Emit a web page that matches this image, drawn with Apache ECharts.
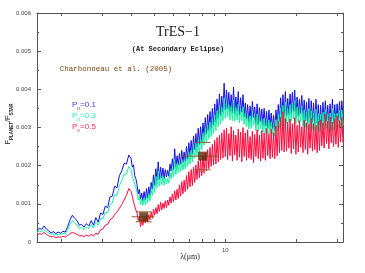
<!DOCTYPE html>
<html>
<head>
<meta charset="utf-8">
<script src="https://cdn.jsdelivr.net/npm/echarts@6/dist/echarts.min.js"></script>
<style>html,body{margin:0;padding:0;background:#fff;}#c{width:365px;height:273px;}</style>
</head>
<body>
<div id="c"></div>
<script>
// Wavelength grid (micron)
const wavelength = [1.585,1.622,1.660,1.698,1.738,1.778,1.820,1.862,1.905,1.950,1.995,2.042,2.089,2.138,2.188,2.239,2.291,2.344,2.399,2.455,2.512,2.570,2.630,2.692,2.754,2.818,2.884,2.951,3.020,3.090,3.162,3.236,3.311,3.388,3.467,3.548,3.631,3.715,3.802,3.890,
3.981,4.027,4.074,4.121,4.169,4.217,4.266,4.315,4.365,4.416,4.467,4.519,4.571,4.624,4.677,4.732,4.786,4.842,4.898,4.955,5.012,5.070,5.129,5.188,5.248,5.309,5.370,5.433,5.495,5.559,5.623,5.689,5.754,5.821,5.888,5.957,6.026,6.095,6.166,6.237,6.310,6.383,6.457,6.531,6.607,6.683,6.761,6.839,6.918,6.998,7.079,7.161,7.244,7.328,7.413,7.499,7.586,7.674,7.762,7.852,7.943,8.035,8.128,8.222,8.318,8.414,8.511,8.610,8.710,8.810,8.913,9.016,9.120,9.226,9.333,9.441,9.550,9.661,9.772,9.886,10.00,10.12,10.23,10.35,10.47,10.59,10.72,10.84,10.96,11.09,11.22,11.35,11.48,11.61,11.75,11.89,12.02,12.16,12.30,12.44,12.59,12.74,12.88,13.03,13.18,13.33,13.49,13.65,13.80,13.96,14.13,14.29,14.45,14.62,14.79,14.96,15.14,15.32,15.49,15.67,15.85,16.03,16.22,16.41,16.60,16.79,16.98,17.18,17.38,17.58,17.78,17.99,18.20,18.41,18.62,18.84,19.05,19.27,19.50,19.72,19.95,20.18,20.42,20.65,20.89,21.13,21.38,21.63,21.88,22.13,22.39,22.65,22.91,23.18,23.44,23.71,23.99,24.27,24.55,24.83,25.12,25.41,25.70,26.00,26.30,26.61,26.92,27.23,27.54,27.86,28.18,28.51,28.84,29.17,29.51,29.85,30.20,30.55,30.90,31.26,31.62];
// F_planet/F_star in units of 1e-4
const fluxPn01 = [3.0,3.6,3.3,4.2,3.4,2.9,2.4,2.7,2.2,2.6,2.3,2.8,2.6,4.0,5.8,7.0,6.2,5.6,4.4,4.6,3.9,4.8,4.2,5.6,4.4,6.4,5.2,7.6,7.2,9.4,9.0,11.8,12.0,14.6,14.2,17.4,18.6,20.6,20.4,22.8,
21.8,19.6,20.2,17.4,16.6,
15.0,12.6,13.8,11.2,12.8,10.8,13.2,11.0,14.0,11.6,14.4,12.2,
15.6,13.8,17.6,14.8,19.2,16.0,21.0,16.4,
19.6,16.8,19.4,16.6,19.0,17.0,18.8,17.2,
20.4,18.6,21.8,19.0,24.4,19.6,22.6,20.2,
23.2,20.4,24.0,20.8,23.6,21.2,25.0,21.8,26.0,22.6,
26.6,23.0,27.8,24.2,28.4,24.8,29.8,25.6,30.2,26.4,
31.2,27.6,32.6,28.4,33.4,29.2,34.2,29.8,35.0,30.6,
36.2,31.4,37.4,32.4,38.8,33.2,38.2,34.0,41.6,34.6,
39.8,35.0,39.2,34.2,38.6,33.8,40.6,33.6,38.0,34.2,39.4,33.2,37.8,34.0,38.6,32.8,
36.4,32.2,36.0,31.4,35.6,31.6,36.8,32.6,35.4,31.0,36.2,30.8,35.2,31.6,34.8,30.6,35.0,30.4,34.2,29.8,34.6,30.2,33.8,29.6,
33.2,29.0,34.6,30.8,36.0,31.6,37.8,32.4,38.6,32.0,39.4,33.0,37.6,33.4,
38.8,33.6,39.2,34.2,39.8,32.8,38.0,33.0,37.4,33.6,38.4,32.2,37.2,31.8,36.6,31.0,37.6,30.6,37.0,31.4,36.4,30.8,37.4,31.2,36.0,30.6,
35.8,30.2,36.6,31.2,37.0,31.6,35.8,30.6,36.2,30.8,37.4,31.0,36.0,31.4,36.2,31.6,36.8,32.0,37.0,32.4];
const fluxPn03 = [2.4,2.9,2.7,3.3,2.8,2.3,2.0,2.2,1.8,2.1,1.9,2.3,2.1,3.2,4.6,5.6,5.0,4.4,3.6,3.8,3.2,3.9,3.5,4.6,3.7,5.2,4.4,6.2,6.0,7.8,7.6,9.8,10.2,12.4,12.2,14.8,16.0,17.8,17.8,19.8,
19.0,17.2,17.6,15.2,14.4,
13.0,11.0,12.0,9.8,11.2,9.6,11.6,9.8,12.2,10.2,12.6,10.8,
13.8,12.2,15.6,13.0,17.2,14.2,18.6,14.6,
17.4,15.0,17.2,14.8,16.8,15.2,16.6,15.4,
18.2,16.6,19.6,17.0,21.6,17.6,20.4,18.2,
20.8,18.4,21.6,18.8,21.2,19.2,22.6,19.8,23.4,20.4,
24.0,21.0,25.2,22.0,25.8,22.6,27.0,23.4,27.4,24.2,
28.4,25.4,29.8,26.2,30.6,27.0,31.4,27.6,32.2,28.4,
33.4,29.2,34.4,30.2,35.6,31.0,35.2,31.8,37.8,32.4,
36.4,32.8,36.0,32.0,35.4,31.8,37.2,31.6,35.0,32.0,36.2,31.2,34.8,31.8,35.4,30.8,
33.8,30.2,33.4,29.6,33.0,29.8,34.2,30.6,32.8,29.2,33.6,29.0,32.6,29.6,32.2,28.8,32.4,28.6,31.8,28.2,32.0,28.4,31.4,28.0,
30.8,27.6,32.0,29.0,33.4,29.8,35.0,30.4,35.8,30.2,36.6,31.0,34.8,31.4,
36.0,31.6,36.4,32.2,37.0,31.0,35.4,31.2,34.8,31.6,35.6,30.4,34.6,30.0,34.0,29.4,35.0,29.0,34.4,29.6,33.8,29.0,34.8,29.4,33.6,28.8,
33.4,28.6,34.0,29.4,34.6,29.8,33.4,28.8,33.8,29.0,35.0,29.2,33.6,29.6,33.8,29.8,34.4,30.2,34.6,30.6];
const fluxPn05 = [1.7,2.2,2.0,2.5,2.0,1.6,1.3,1.5,1.1,1.4,1.2,1.5,1.3,1.7,2.2,2.5,2.3,2.0,1.6,1.7,1.4,1.8,1.5,2.0,1.6,2.3,2.0,3.2,3.4,4.4,4.6,5.8,6.2,7.2,7.8,8.8,9.8,11.0,12.2,14.0,
13.2,12.0,10.6,9.4,8.4,
7.6,5.6,6.6,4.0,5.8,4.4,6.4,5.0,7.0,5.2,7.2,5.8,
7.8,6.2,8.6,7.0,9.0,7.4,9.8,8.0,
10.4,8.4,10.2,8.8,10.8,9.0,11.0,9.6,
11.8,10.2,12.6,10.6,13.4,11.0,13.8,11.4,
15.0,12.0,15.8,12.6,16.2,13.2,17.4,13.8,18.4,14.4,
19.0,14.8,19.6,15.6,20.2,16.4,21.2,16.8,21.6,17.4,
22.6,18.0,23.2,18.6,24.2,19.2,24.8,19.8,25.6,20.2,
26.6,20.4,27.4,21.0,28.0,21.6,28.6,22.0,29.4,22.4,
29.8,21.6,28.4,22.6,30.2,21.2,29.2,22.8,28.0,21.4,29.6,22.2,28.8,21.0,30.0,22.4,
28.6,21.4,29.4,22.0,27.6,21.6,29.0,20.8,28.2,22.4,29.4,21.8,28.0,21.2,29.2,22.0,28.6,21.4,29.8,22.6,28.4,21.8,29.6,22.2,
28.6,21.8,30.4,22.6,31.6,23.4,32.6,24.0,34.2,23.6,32.4,23.8,31.4,24.6,
32.2,23.2,31.0,24.4,32.6,23.0,30.6,23.6,31.8,24.8,30.2,23.4,32.0,24.2,31.2,23.0,30.8,24.6,32.4,23.8,31.0,24.2,30.6,23.4,31.6,24.0,
32.0,25.2,31.2,24.6,33.4,25.8,31.6,24.4,32.8,26.0,31.4,25.0,32.2,25.6,33.0,24.8,31.8,26.2,32.6,26.0];
// Charbonneau et al. (2005) observations
const obsWavelength = [4.5, 8.0];
const obsFlux = [6.6, 22.5];
const obsErr = [1.3, 3.6];
const obsBandLo = [4.0, 6.5];
const obsBandHi = [5.0, 9.3];
// Axis ticks
const xTickValues = [2,3,4,5,6,7,8,9,10,20,30];
const xLabelValues = [10];
const seriesNames = ['Pn=0.1','Pn=0.3','Pn=0.5'];
const seriesColors = ['#1010e0','#14f0a0','#ff0a3c'];
const legendColors = ['#3a3aff','#2cf5a8','#ff2a55'];

const chart = echarts.init(document.getElementById('c'), null, {renderer:'canvas'});
const pairs = arr => arr.slice(0, Math.min(arr.length, wavelength.length)).map((v,i)=>[wavelength[i], v]);
const frame = '#555';
function xAx(pos, label){
  return {type:'log', logBase:10, min:1.585, max:31.62, position:pos,
    axisLine:{show:true, onZero:false, lineStyle:{color:frame, width:1}},
    axisTick:{show:true, inside:true, length:3, customValues:xTickValues, lineStyle:{color:frame}},
    axisLabel:{show:label, customValues:xLabelValues, fontSize:6, color:'#444', margin:5, fontFamily:'Liberation Sans', formatter:v=>String(Math.round(v))},
    splitLine:{show:false}, minorTick:{show:false}};
}
function yAx(pos, label){
  return {type:'value', min:0, max:60, interval:10, position:pos,
    axisLine:{show:true, onZero:false, lineStyle:{color:frame, width:1}},
    axisTick:{show:true, inside:true, length:4, lineStyle:{color:frame}},
    minorTick:{show:true, splitNumber:2, length:2, lineStyle:{color:frame}},
    axisLabel:{show:label, fontSize:6, color:'#444', margin:6, fontFamily:'Liberation Sans',
      formatter:v=> v===0 ? '0' : (v/10000).toFixed(3)},
    splitLine:{show:false}, minorSplitLine:{show:false}};
}
const obsData = obsWavelength.map((w,i)=>[w, obsFlux[i], obsErr[i], obsBandLo[i], obsBandHi[i]]);
const option = {
  animation:false,
  grid:{left:37, right:22, top:13, bottom:31, containLabel:false},
  xAxis:[xAx('bottom', true), xAx('top', false)],
  yAxis:[yAx('left', true), yAx('right', false)],
  series:[
    ...[fluxPn01, fluxPn03, fluxPn05].map((arr,i)=>({
      name:seriesNames[i], type:'line', data:pairs(arr), showSymbol:false, symbol:'none',
      lineStyle:{color:seriesColors[i], width:1}, z:2+i, silent:true
    })),
    {type:'custom', data:obsData, z:10, renderItem:(params, api)=>{
      const w=api.value(0), f=api.value(1), e=api.value(2), lo=api.value(3), hi=api.value(4);
      const pt = api.coord([w,f+e]), pb = api.coord([w,f-e]);
      const pl = api.coord([lo,f]), pr = api.coord([hi,f]);
      const st = {stroke:'#8a5a2e', lineWidth:1};
      return {type:'group', children:[
        {type:'line', shape:{x1:pl[0], y1:pl[1], x2:pr[0], y2:pr[1]}, style:st},
        {type:'line', shape:{x1:pt[0]-8, y1:pt[1], x2:pt[0]+8, y2:pt[1]}, style:st},
        {type:'line', shape:{x1:pb[0]-8, y1:pb[1], x2:pb[0]+8, y2:pb[1]}, style:st}
      ]};
    }},
    {type:'scatter', data:obsWavelength.map((w,i)=>[w, obsFlux[i]]), symbol:'rect', symbolSize:9,
      itemStyle:{color:'#5a2806'}, z:11}
  ],
  graphic:[
    {type:'text', style:{text:'TrES\u22121', x:178, y:32, font:'14px "Liberation Serif"', fill:'#222', align:'center', verticalAlign:'middle'}},
    {type:'text', style:{text:'(At Secondary Eclipse)', x:178, y:49, font:'bold 7px "Liberation Mono"', fill:'#222', align:'center', verticalAlign:'middle'}},
    {type:'text', style:{text:'Charbonneau et al. (2005)', x:116, y:69, font:'7.5px "Liberation Mono"', fill:'#7a4614', align:'center', verticalAlign:'middle'}},
    ...seriesNames.map((n,i)=>({type:'text', style:{
      text:'{p|P}{s|n}{p|=0.' + [1,3,5][i] + '}', x:72, y:106+11*i, align:'left', verticalAlign:'middle',
      rich:{p:{fontSize:8, fontFamily:'Liberation Sans', fill:legendColors[i], lineHeight:10, verticalAlign:'top'},
            s:{fontSize:5, fontFamily:'Liberation Sans', fill:legendColors[i], lineHeight:10, verticalAlign:'bottom', padding:[3,0,0,0]}}
    }})),
    {type:'text', rotation:Math.PI/2, x:9, y:124, style:{
      text:'{p|F}{s|PLANET}{p|/F}{s|STAR}', align:'center', verticalAlign:'middle',
      rich:{p:{fontSize:7.5, fontFamily:'Liberation Sans', fill:'#222', lineHeight:10, verticalAlign:'top'},
            s:{fontSize:4.5, fontFamily:'Liberation Sans', fontWeight:'bold', fill:'#222', lineHeight:10, verticalAlign:'bottom', padding:[3,0,0,0]}}
    }},
    {type:'text', style:{text:'\u03bb(\u03bcm)', x:190, y:257, font:'8px "Liberation Serif"', fill:'#222', align:'center', verticalAlign:'middle'}}
  ]
};
chart.setOption(option);
</script>
</body>
</html>
